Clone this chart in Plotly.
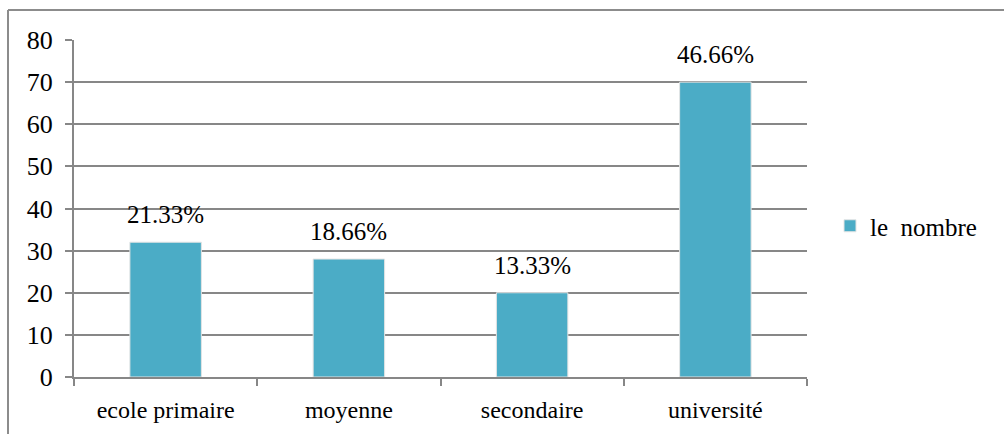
import plotly.graph_objects as go

categories = ["ecole primaire", "moyenne", "secondaire", "université"]
values = [32, 28, 20, 70]
labels = ["21.33%", "18.66%", "13.33%", "46.66%"]
series_name = "le  nombre"

W, H = 1004, 434
L, R, T, B = 74, 197, 40, 57
pw = W - L - R
ph = H - T - B

def px_x(x):
    return (x - L) / pw

def px_y(y):
    return (H - B - y) / ph

FONT = "Times New Roman, Liberation Serif, serif"

fig = go.Figure()
fig.add_trace(go.Bar(
    x=categories, y=values, name=series_name,
    marker=dict(color="#4BACC6", line=dict(color="#E4E4E4", width=1)),
    width=0.39, showlegend=True,
))

for c, v, t in zip(categories, values, labels):
    fig.add_annotation(x=c, y=v, text=t, showarrow=False, xref="x", yref="y",
                       yanchor="bottom", yshift=12,
                       font=dict(family=FONT, size=25, color="#000"))

gray = "#878787"
fig.update_layout(
    width=W, height=H,
    margin=dict(l=L, r=R, t=T, b=B, autoexpand=False),
    paper_bgcolor="white", plot_bgcolor="white",
    font=dict(family=FONT, size=24, color="#000"),
    showlegend=True,
    legend=dict(x=px_x(830), y=px_y(226), xanchor="left", yanchor="middle",
                font=dict(family=FONT, size=25, color="#000"),
                itemwidth=30, bgcolor="rgba(0,0,0,0)"),
    xaxis=dict(showline=True, linecolor=gray, linewidth=2, ticks="outside",
               tickson="boundaries", ticklen=7, tickcolor=gray, tickwidth=1.5,
               showgrid=False, ticklabelstandoff=10, automargin=False,
               tickfont=dict(family=FONT, size=24, color="#000")),
    yaxis=dict(range=[0, 80], dtick=10, showline=True, linecolor=gray, linewidth=2,
               ticks="outside", ticklen=7, tickcolor=gray, tickwidth=1.5,
               showgrid=True, gridcolor=gray, gridwidth=1.5, zeroline=False,
               ticklabelstandoff=7, automargin=False,
               tickfont=dict(family=FONT, size=26, color="#000")),
    shapes=[
        dict(type="line", xref="paper", yref="paper", x0=px_x(8), x1=px_x(1004),
             y0=px_y(10), y1=px_y(10), line=dict(color="#8c8c8c", width=2)),
        dict(type="line", xref="paper", yref="paper", x0=px_x(8), x1=px_x(8),
             y0=px_y(10), y1=px_y(434), line=dict(color="#8c8c8c", width=2)),
    ],
)

fig.write_html("out.html", config={"displayModeBar": False},
               post_script="document.body.style.margin='0';")
